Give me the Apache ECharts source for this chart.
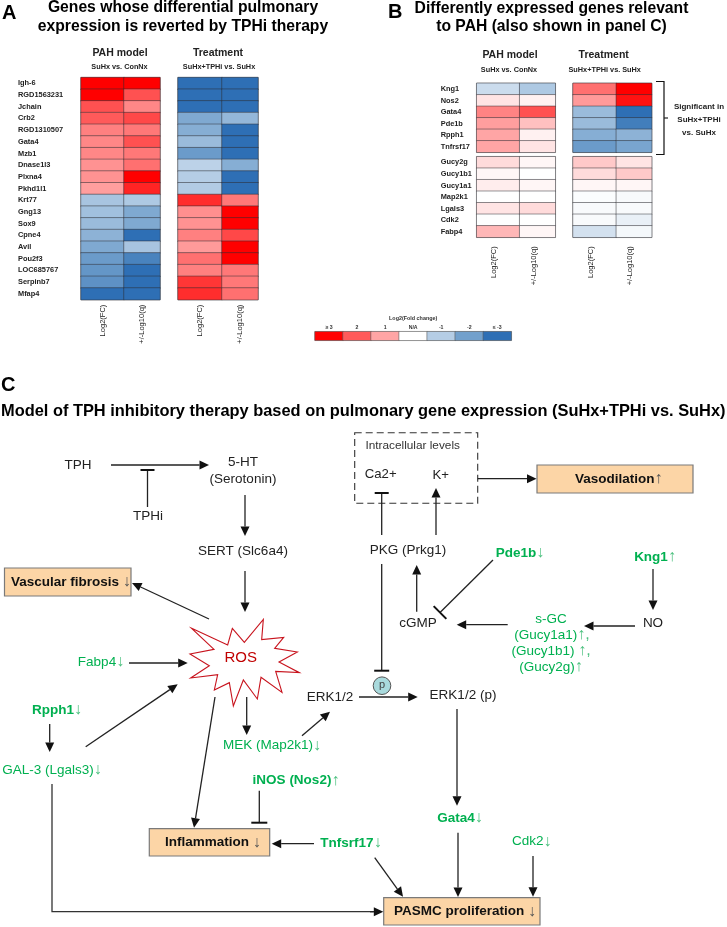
<!DOCTYPE html>
<html><head><meta charset="utf-8">
<style>html,body{margin:0;padding:0;background:#fff}#c{width:727px;height:927px}</style>
<script src="https://cdn.jsdelivr.net/npm/echarts@6/dist/echarts.min.js"></script>
</head><body><div id="c"></div>
<script>
// ---------- data ----------
const genesA = ['Igh-6','RGD1563231','Jchain','Crb2','RGD1310507','Gata4','Mzb1','Dnase1l3','Plxna4','Pkhd1l1','Krt77','Gng13','Sox9','Cpne4','Avil','Pou2f3','LOC685767','Serpinb7','Mfap4'];
const aModelFC = [3,3,2.1,2,1.5,1.4,1.4,1.25,1.25,1.1,-1.2,-1.3,-1.4,-1.6,-1.8,-2.1,-2.2,-2.3,-3];
const aModelQ  = [3,2.1,1.4,2.2,1.6,2.1,1.6,1.7,3,2.6,-1.1,-1.8,-1.8,-3,-1.2,-2.6,-3,-3,-3];
const aTreatFC = [-3,-3,-3,-1.8,-1.7,-1.4,-2.1,-0.9,-1,-1.05,2.5,1.3,1.25,1.5,1.15,1.7,1.5,2.4,2.5];
const aTreatQ  = [-3,-3,-3,-1.5,-3,-3,-3,-1.7,-3,-3,1.6,3,3,2.2,3,3,1.6,1.6,1.7];
const genesB1 = ['Kng1','Nos2','Gata4','Pde1b','Rpph1','Tnfrsf17'];
const b1ModelFC = [-0.7,0.3,1.45,1.1,1,1];
const b1ModelQ  = [-1.1,0.15,2.1,0.7,0.15,0.3];
const b1TreatFC = [1.7,1.15,-1.4,-1.4,-1.7,-2.1];
const b1TreatQ  = [3,2.8,-3,-2.7,-1.6,-1.9];
const genesB2 = ['Gucy2g','Gucy1b1','Gucy1a1','Map2k1','Lgals3','Cdk2','Fabp4'];
const b2ModelFC = [0.4,0.1,0.2,0,0.3,-0.03,0.8];
const b2ModelQ  = [0.1,0,0.1,0,0.4,0,0.1];
const b2TreatFC = [0.6,0.4,0.1,-0.05,-0.1,-0.1,-0.6];
const b2TreatQ  = [0.3,0.6,0.1,-0.1,-0.1,-0.3,-0.15];
const legendLabels = ['≥ 3','2','1','N/A','-1','-2','≤ -3'];
const legendValues = [3,2,1,0,-1,-2,-3];
const scaleColors = ['#2e6fb5','#72a0cc','#b5cde5','#ffffff','#ffa5a5','#ff5a5a','#ff0000'];

// ---------- helpers ----------
const grid=[],xAxis=[],yAxis=[],series=[],g=[];
const BORDER='rgba(45,45,50,0.62)';
const FONT='"Liberation Sans",Arial,sans-serif';
function column(x0,x1,y0,y1,cats,vals,colName,showCats,catMargin,nameMargin,nameShift){
  const i=grid.length;
  grid.push({left:x0,top:y0,width:x1-x0,height:y1-y0,show:true,borderColor:'#8a8a8a',borderWidth:1,backgroundColor:'transparent'});
  xAxis.push({type:'category',gridIndex:i,data:[colName],position:'bottom',axisLine:{show:false},axisTick:{show:false},splitLine:{show:false},
    axisLabel:{show:nameMargin>0,rotate:90,interval:0,margin:nameMargin,fontSize:7.5,color:'#222',fontFamily:FONT,verticalAlign:nameShift}});
  yAxis.push({type:'category',gridIndex:i,data:cats,inverse:true,axisLine:{show:false},axisTick:{show:false},splitLine:{show:false},
    axisLabel:{show:showCats,interval:0,align:'left',margin:catMargin,fontSize:7.4,fontWeight:'bold',color:'#222',fontFamily:FONT}});
  series.push({type:'heatmap',xAxisIndex:i,yAxisIndex:i,data:vals.map((v,r)=>[0,r,v]),silent:true,
    itemStyle:{borderColor:BORDER,borderWidth:0.8},emphasis:{disabled:true},progressive:0});
}
function txt(x,y,text,font,fill,align){g.push({type:'text',z:20,silent:true,style:{x,y,text,font:font+' '+FONT,fill:fill||'#111',align:align||'center',verticalAlign:'middle'}});}
function arrow(x1,y1,x2,y2,col){
  const a=Math.atan2(y2-y1,x2-x1),L=9.5,W=4.5,c=col||'#111';
  const bx=x2-L*Math.cos(a),by=y2-L*Math.sin(a),nx=-Math.sin(a),ny=Math.cos(a);
  g.push({type:'line',z:10,silent:true,shape:{x1,y1,x2:bx,y2:by},style:{stroke:'#222',lineWidth:1.3}});
  g.push({type:'polygon',z:10,silent:true,shape:{points:[[x2,y2],[bx+nx*W,by+ny*W],[bx-nx*W,by-ny*W]]},style:{fill:c}});
}
function tbar(x1,y1,x2,y2,h){
  const a=Math.atan2(y2-y1,x2-x1),nx=-Math.sin(a),ny=Math.cos(a);
  g.push({type:'line',z:10,silent:true,shape:{x1,y1,x2,y2},style:{stroke:'#222',lineWidth:1.3}});
  g.push({type:'line',z:10,silent:true,shape:{x1:x2+nx*h,y1:y2+ny*h,x2:x2-nx*h,y2:y2-ny*h},style:{stroke:'#111',lineWidth:2}});
}
function seg(x1,y1,x2,y2){g.push({type:'line',z:10,silent:true,shape:{x1,y1,x2,y2},style:{stroke:'#222',lineWidth:1.2}});}
// label with a thin arrow glyph
function lab(x,y,text,arr,bold,fill,size,arrFill,align){
  g.push({type:'text',z:20,silent:true,style:{x,y,text:'{a|'+text+'}{b|'+arr+'}',align:align||'center',verticalAlign:'middle',
    rich:{a:{fontFamily:FONT,fontSize:size,fontWeight:bold?'bold':'normal',fill:fill,color:fill,lineHeight:size+4},
          b:{fontFamily:FONT,fontSize:size+2.5,fontWeight:'normal',fill:arrFill,color:arrFill,lineHeight:size+4}}}});
}
function box(x0,y0,x1,y1){g.push({type:'rect',z:5,silent:true,shape:{x:x0,y:y0,width:x1-x0,height:y1-y0},style:{fill:'#fcd5a6',stroke:'#7a7a7a',lineWidth:1.2}});}

// ---------- panel A ----------
const A0=77.5,A1=299.7;
column(81,124,A0,A1,genesA,aModelFC,'Log2(FC)',true,63,5,'middle');
column(124,160,A0,A1,genesA,aModelQ,'+/-Log10(q)',false,0,5,'middle');
column(178,222,A0,A1,genesA,aTreatFC,'Log2(FC)',false,0,5,'middle');
column(222,258,A0,A1,genesA,aTreatQ,'+/-Log10(q)',false,0,5,'middle');
// ---------- panel B ----------
const B0=83.3,B1=152.3,B2=156.7,B3=237.3;
column(476.7,519.7,B0,B1,genesB1,b1ModelFC,'',true,36,0);
column(519.7,555.3,B0,B1,genesB1,b1ModelQ,'',false,0,0);
column(573,616.3,B0,B1,genesB1,b1TreatFC,'',false,0,0);
column(616.3,651.7,B0,B1,genesB1,b1TreatQ,'',false,0,0);
column(476.7,519.7,B2,B3,genesB2,b2ModelFC,'Log2(FC)',true,36,9,'bottom');
column(519.7,555.3,B2,B3,genesB2,b2ModelQ,'+/-Log10(q)',false,0,9,'bottom');
column(573,616.3,B2,B3,genesB2,b2TreatFC,'Log2(FC)',false,0,9,'bottom');
column(616.3,651.7,B2,B3,genesB2,b2TreatQ,'+/-Log10(q)',false,0,9,'bottom');
// ---------- colour key ----------
const k=grid.length;
grid.push({left:315,top:331.7,width:196.3,height:8.6,show:true,borderColor:'#888',borderWidth:0.8});
xAxis.push({type:'category',gridIndex:k,data:legendLabels,position:'top',axisLine:{show:false},axisTick:{show:false},splitLine:{show:false},
  axisLabel:{interval:0,margin:2,fontSize:5.2,fontWeight:'bold',color:'#333',fontFamily:FONT},
  name:'Log2(Fold change)',nameLocation:'middle',nameGap:10.5,nameTextStyle:{fontSize:5.4,fontWeight:'bold',color:'#333',fontFamily:FONT}});
yAxis.push({type:'category',gridIndex:k,data:[''],show:false});
series.push({type:'heatmap',xAxisIndex:k,yAxisIndex:k,data:legendValues.map((v,c)=>[c,0,v]),silent:true,progressive:0,
  itemStyle:{borderColor:'rgba(90,90,90,.7)',borderWidth:0.8},emphasis:{disabled:true}});

// ---------- titles ----------
const H='bold 15.7px',P='bold 20px';
txt(2,13,'A',P,'#000','left');
txt(183,8,'Genes whose differential pulmonary',H,'#000');
txt(183,26.5,'expression is reverted by TPHi therapy',H,'#000');
txt(388,12,'B',P,'#000','left');
txt(551.5,8.5,'Differently expressed genes relevant',H,'#000');
txt(551.5,27,'to PAH (also shown in panel C)',H,'#000');
txt(1,385,'C',P,'#000','left');
txt(1,411,'Model of TPH inhibitory therapy based on pulmonary gene expression (SuHx+TPHi vs. SuHx)','bold 16.4px','#000','left');
const HS='bold 10.5px',SS='bold 7.3px';
txt(120,53,'PAH model',HS,'#222');txt(119.5,67,'SuHx vs. ConNx',SS,'#222');
txt(218,53,'Treatment',HS,'#222');txt(219,67,'SuHx+TPHi vs. SuHx',SS,'#222');
txt(510,55,'PAH model',HS,'#222');txt(509,70,'SuHx vs. ConNx',SS,'#222');
txt(603.7,55,'Treatment',HS,'#222');txt(604.7,70,'SuHx+TPHi vs. SuHx',SS,'#222');
// bracket
g.push({type:'polyline',z:10,silent:true,shape:{points:[[656,81.5],[664,81.5],[664,154.5],[656,154.5]]},style:{stroke:'#111',lineWidth:1.2,fill:'none'}});
seg(664,118,668,118);
txt(699,107,'Significant in','bold 8px','#222');txt(699,120,'SuHx+TPHi','bold 8px','#222');txt(699,132.5,'vs. SuHx','bold 8px','#222');

// ---------- panel C diagram ----------
const GREEN='#00b050',GA='#4cc07f',N='13.5px',S=13.5;
const starPts=[[35,70],[143,120],[157,70],[193,112],[250,43],[245,104],[311,97],[284,130],[352,141],[297,171],[358,203],[287,199],[306,262],[243,217],[232,282],[190,225],[160,303],[148,233],[103,255],[113,209],[32,219],[88,182],[30,147],[102,133]].map(p=>[180+p[0]/3,605+p[1]/3]);
g.push({type:'polygon',z:6,silent:true,shape:{points:starPts},style:{fill:'#fff',stroke:'#c8141e',lineWidth:1.1}});
txt(240.7,658,'ROS','15px','#c00000');

txt(78,465,'TPH',N,'#222');arrow(111,465,209,465);
tbar(147.5,507,147.5,470,7);txt(148,516,'TPHi',N,'#222');
txt(243,462,'5-HT',N,'#222');txt(243,479,'(Serotonin)',N,'#222');
arrow(245,495,245,536);txt(243,551,'SERT (Slc6a4)',N,'#222');arrow(245,571,245,612);
box(4.5,568,131,596);lab(11,582,'Vascular fibrosis ','↓',true,'#111',S,'#555','left');
arrow(209,619,132,583);

g.push({type:'rect',z:5,silent:true,shape:{x:354.7,y:432.7,width:123,height:70.6},style:{fill:'none',stroke:'#333',lineWidth:1.1,lineDash:[7,4]}});
txt(412.7,446,'Intracellular levels','11.8px','#333');
txt(380.7,474,'Ca2+','13.2px','#222');txt(440.7,475,'K+','13.2px','#222');
tbar(381.7,535,381.7,493,7);arrow(436,535,436,488);
arrow(477.7,478.7,536.5,478.7);
box(537,465,693,493);lab(575,479,'Vasodilation','↑',true,'#111',S,'#555','left');

txt(408,550,'PKG (Prkg1)',N,'#222');
lab(520,553,'Pde1b','↓',true,GREEN,S,GA);
lab(655,557,'Kng1','↑',true,GREEN,S,GA);
arrow(653,569,653,610);txt(653,623,'NO',N,'#222');
arrow(635,626,584,626);
txt(551,619,'s-GC',N,GREEN);
lab(552,635,'(Gucy1a1)','↑,',false,GREEN,S,GA);
lab(551,651,'(Gucy1b1) ','↑,',false,GREEN,S,GA);
lab(551,667,'(Gucy2g)','↑',false,GREEN,S,GA);
arrow(507.7,624.7,456.7,624.7);txt(418,623,'cGMP',N,'#222');
tbar(493,560,440,612.5,9);
arrow(416.7,611.7,416.7,565);
tbar(381.7,564,381.7,670.7,7.5);
g.push({type:'circle',z:12,silent:true,shape:{cx:382,cy:685.7,r:8.8},style:{fill:'#a9dadd',stroke:'#555',lineWidth:1}});
g.push({type:'text',z:20,silent:true,style:{x:382,y:685,text:'p',font:'11px '+FONT,fill:'#444',align:'center',verticalAlign:'middle'}});
txt(330,697,'ERK1/2',N,'#222');arrow(359,697,417.7,697);
txt(463,695,'ERK1/2 (p)',N,'#222');arrow(457,709,457,805.7);
lab(460,818,'Gata4','↓',true,GREEN,S,GA);
arrow(458,832.7,458,897);
lab(531.7,841.7,'Cdk2','↓',false,GREEN,S,GA);
arrow(533,856,533,896.7);
lab(351,843,'Tnfsrf17','↓',true,GREEN,S,GA);
arrow(374.7,857.7,403,896.7);
box(383.7,897.7,540,925);lab(394,911.5,'PASMC proliferation ','↓',true,'#111',S,'#555','left');
g.push({type:'polyline',z:10,silent:true,shape:{points:[[52,784],[52,911.7],[376,911.7]]},style:{stroke:'#333',lineWidth:1.3,fill:'none'}});
arrow(370,911.7,383.3,911.7);

lab(101,662,'Fabp4','↓',false,GREEN,S,GA);arrow(129,663,187.7,663);
lab(57,710,'Rpph1','↓',true,GREEN,S,GA);arrow(49.7,724,49.7,752);
lab(52,770,'GAL-3 (Lgals3)','↓',false,GREEN,S,GA);
arrow(85.7,746.7,177.7,684.3);
arrow(215,697,194,827.7);
arrow(246.7,697,246.7,735);
lab(272,745.7,'MEK (Map2k1)','↓',false,GREEN,S,GA);
arrow(302,735.7,330,711.7);
lab(296,780.7,'iNOS (Nos2)','↑',true,GREEN,S,GA);
tbar(259.3,790.7,259.3,822.7,8);
box(149.3,828.7,269.7,856);lab(165,842.5,'Inflammation ','↓',true,'#111',S,'#555','left');
arrow(314,843.7,271.7,843.7);

echarts.init(document.getElementById('c'),null,{renderer:'canvas'}).setOption({
  animation:false,backgroundColor:'#fff',
  grid,xAxis,yAxis,series,
  visualMap:{type:'continuous',show:false,min:-3,max:3,dimension:2,seriesIndex:series.map((s,i)=>i),inRange:{color:scaleColors}},
  graphic:{elements:g}
});
</script></body></html>
